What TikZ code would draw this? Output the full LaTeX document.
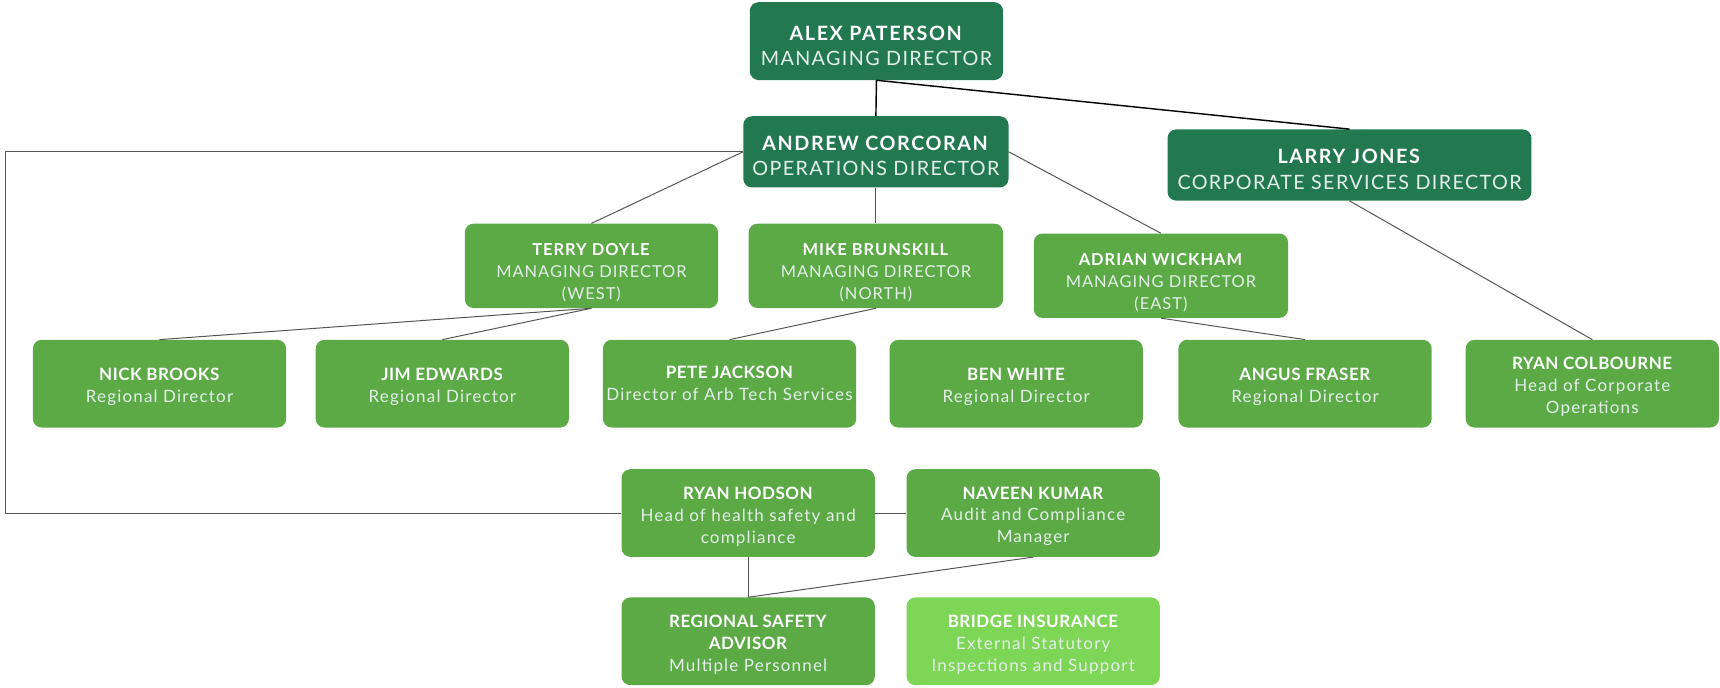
\documentclass[tikz,border=0pt]{standalone}
\usepackage{fontspec}
\setmainfont{Lato}
\definecolor{darkg}{HTML}{23794F}
\definecolor{midg}{HTML}{5BAA46}
\definecolor{lightg}{HTML}{7ED657}
\definecolor{linegray}{HTML}{555555}
\newcommand{\ls}[1]{\addfontfeature{LetterSpace=#1}}
\newcommand{\subt}[1]{{\color{white!88!darkg}#1}}
\newcommand{\topname}[1]{\textbf{\ls{8}#1}}
\newcommand{\toptitle}[1]{\subt{\ls{7}#1}}
\newcommand{\midname}[1]{\textbf{\ls{6}#1}}
\newcommand{\midtitle}[1]{\subt{\ls{6}#1}}
\newcommand{\rowname}[1]{\textbf{\ls{3}#1}}
\newcommand{\rowtitle}[1]{\subt{\ls{7}#1}}
\tikzset{
  box/.style={rounded corners=8pt, inner sep=0pt,
    minimum width=231pt, minimum height=80pt},
  txt/.style={inner sep=0pt, align=center, text=white},
  topbox/.style={box, fill=darkg},
  toptxt/.style={txt, font=\fontsize{18}{23}\selectfont, yshift=-4pt},
  midbox/.style={box, fill=midg, minimum height=77pt},
  midtxt/.style={txt, font=\fontsize{15}{20}\selectfont, yshift=-6pt},
  rowbox/.style={box, fill=midg},
  rowtxt/.style={txt, font=\fontsize{15.5}{20}\selectfont, yshift=-3pt},
  toplink/.style={draw=black, line width=1.3pt},
  link/.style={draw=linegray, line width=0.9pt},
}
\begin{document}
\begin{tikzpicture}[x=1pt,y=-1pt]
\useasboundingbox (0,0) rectangle (1569,626.7);
% level 1-2
\node[topbox, minimum width=231pt, minimum height=71pt,
  label={[toptxt]center:{\topname{ALEX PATERSON}\\\toptitle{MANAGING DIRECTOR}}}]
  (alex) at (799.5,37.5) {};
\node[topbox, minimum width=242pt, minimum height=65pt,
  label={[toptxt]center:{\topname{ANDREW CORCORAN}\\\toptitle{OPERATIONS DIRECTOR}}}]
  (andrew) at (799,138.5) {};
\node[topbox, minimum width=332pt, minimum height=65pt,
  label={[toptxt]center:{\topname{LARRY JONES}\\\toptitle{CORPORATE SERVICES DIRECTOR}}}]
  (larry) at (1231,150.5) {};
% level 3
\node[midbox,
  label={[midtxt]center:{\midname{TERRY DOYLE}\\\midtitle{MANAGING DIRECTOR}\\\midtitle{(WEST)}}}]
  (terry) at (539.5,242.5) {};
\node[midbox, minimum width=232pt,
  label={[midtxt]center:{\midname{MIKE BRUNSKILL}\\\midtitle{MANAGING DIRECTOR}\\\midtitle{(NORTH)}}}]
  (mike) at (799,242.5) {};
\node[midbox, minimum width=232pt,
  label={[midtxt]center:{\midname{ADRIAN WICKHAM}\\\midtitle{MANAGING DIRECTOR}\\\midtitle{(EAST)}}}]
  (adrian) at (1059,251.5) {};
% row 3
\node[rowbox, label={[rowtxt]center:{\rowname{NICK BROOKS}\\\rowtitle{Regional Director}}}]
  (nick) at (145.5,350) {};
\node[rowbox, label={[rowtxt]center:{\rowname{JIM EDWARDS}\\\rowtitle{Regional Director}}}]
  (jim) at (403.5,350) {};
\node[rowbox, label={[rowtxt, yshift=3pt]center:{\rowname{PETE JACKSON}\\\rowtitle{Director of Arb Tech Services}}}]
  (pete) at (665.5,350) {};
\node[rowbox, label={[rowtxt]center:{\rowname{BEN WHITE}\\\rowtitle{Regional Director}}}]
  (ben) at (927,350) {};
\node[rowbox, label={[rowtxt]center:{\rowname{ANGUS FRASER}\\\rowtitle{Regional Director}}}]
  (angus) at (1190.5,350) {};
\node[rowbox, label={[rowtxt]center:{\rowname{RYAN COLBOURNE}\\\rowtitle{Head of Corporate}\\\rowtitle{Operations}}}]
  (ryanc) at (1452.5,350) {};
% row 4-5
\node[rowbox, label={[rowtxt]center:{\rowname{RYAN HODSON}\\\rowtitle{Head of health safety and}\\\rowtitle{compliance}}}]
  (hodson) at (682.5,468) {};
\node[rowbox, label={[rowtxt]center:{\rowname{NAVEEN KUMAR}\\\rowtitle{Audit and Compliance}\\\rowtitle{Manager}}}]
  (naveen) at (942.5,468) {};
\node[rowbox, label={[rowtxt]center:{\rowname{REGIONAL SAFETY}\\\rowname{ADVISOR}\\\rowtitle{Multiple Personnel}}}]
  (rsa) at (682.5,585) {};
\node[rowbox, fill=lightg, label={[rowtxt]center:{\rowname{BRIDGE INSURANCE}\\\rowtitle{External Statutory}\\\rowtitle{Inspections and Support}}}]
  (bridge) at (942.5,585) {};
% connectors
\coordinate (lc) at (5,0);
\draw[toplink] (alex.south) -- (andrew.north);
\draw[toplink] (alex.south) -- (larry.north);
\draw[link] (andrew.west) -- (andrew.west -| lc) |- (hodson.west);
\draw[link] (andrew.west) -- (terry.north);
\draw[link] (andrew.south) -- (mike.north);
\draw[link] (andrew.east) -- (adrian.north);
\draw[link] (larry.south) -- (ryanc.north);
\draw[link] (terry.south) -- (nick.north);
\draw[link] (terry.south) -- (jim.north);
\draw[link] (mike.south) -- (pete.north);
\draw[link] (adrian.south) -- (angus.north);
\draw[link] (hodson.east) -- (naveen.west);
\draw[link] (hodson.south) -- (rsa.north);
\draw[link] (naveen.south) -- (rsa.north);
\end{tikzpicture}
\end{document}
